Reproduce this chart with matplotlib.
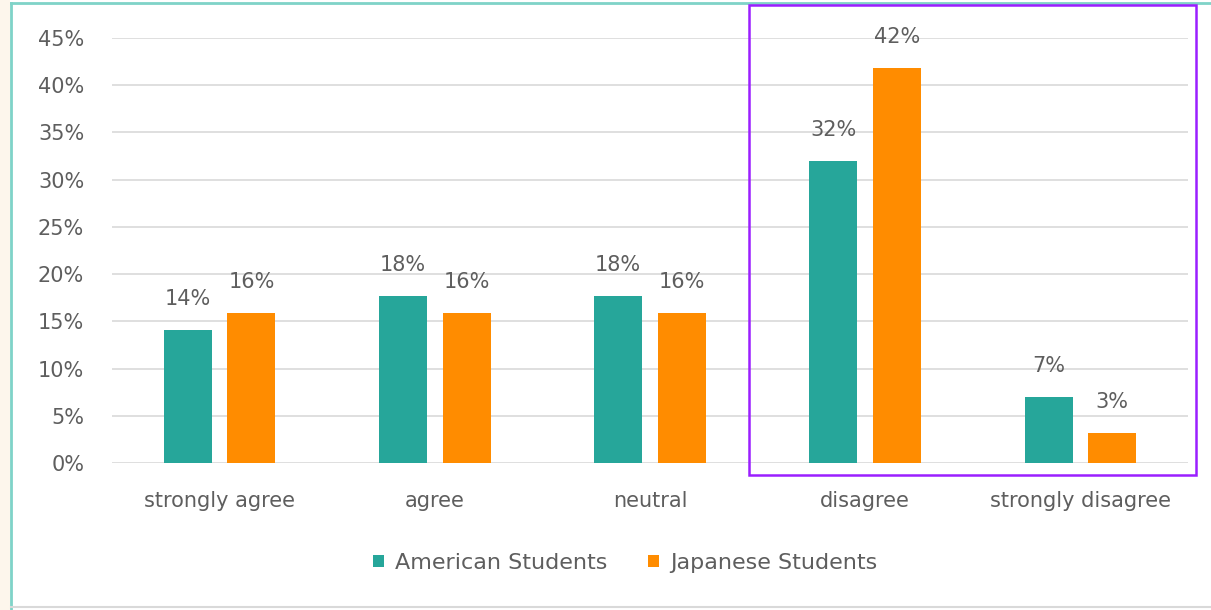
import matplotlib
matplotlib.use("Agg")
import matplotlib.pyplot as plt
from matplotlib.patches import Rectangle
import numpy as np

categories = ["strongly agree", "agree", "neutral", "disagree", "strongly disagree"]
american = [14.1, 17.7, 17.7, 32.0, 7.0]
japanese = [15.9, 15.9, 15.9, 41.8, 3.2]
american_labels = ["14%", "18%", "18%", "32%", "7%"]
japanese_labels = ["16%", "16%", "16%", "42%", "3%"]
yticks = [0, 5, 10, 15, 20, 25, 30, 35, 40, 45]
series_names = ["American Students", "Japanese Students"]

TEAL = "#26A69A"
ORANGE = "#FF8C00"
TXT = "#5E5E5E"
FS = 15

plt.rcParams['font.family'] = ['DejaVu Sans']

W, H = 1211, 610
fig = plt.figure(figsize=(W / 100, H / 100), dpi=100)
fig.patch.set_facecolor("white")

# outer frame decorations
fig.patches.append(Rectangle((0, 0), 10 / W, 1, transform=fig.transFigure,
                             facecolor="#FDF6EC", edgecolor="none", zorder=0))
fig.lines.append(plt.Line2D([11 / W, 11 / W], [0, 1 - 3 / H], transform=fig.transFigure,
                            color="#7FD3C8", lw=2))
fig.lines.append(plt.Line2D([11 / W, 1], [1 - 3 / H, 1 - 3 / H], transform=fig.transFigure,
                            color="#7FD3C8", lw=2))
fig.lines.append(plt.Line2D([11 / W, 1], [1 - 607 / H, 1 - 607 / H], transform=fig.transFigure,
                            color="#D9D9D9", lw=1.5))

left, right = 112 / W, 1188 / W
bottom, top = 1 - 463 / H, 1 - 38 / H
ax = fig.add_axes([left, bottom, right - left, top - bottom])

x = np.arange(len(categories))
bw = 0.223
off = 0.148
b1 = ax.bar(x - off, american, bw, color=TEAL, label=series_names[0], zorder=3)
b2 = ax.bar(x + off, japanese, bw, color=ORANGE, label=series_names[1], zorder=3)

for bars, labels in ((b1, american_labels), (b2, japanese_labels)):
    for rect, lab in zip(bars, labels):
        ax.annotate(lab, (rect.get_x() + rect.get_width() / 2, rect.get_height()),
                    xytext=(0, 15), textcoords="offset points", ha="center", va="bottom",
                    fontsize=FS, color=TXT)

ax.set_xlim(-0.5, len(categories) - 0.5)
ax.set_ylim(0, 45)
ax.set_yticks(yticks)
ax.set_yticklabels([f"{v}%" for v in yticks], fontsize=FS, color=TXT)
ax.set_xticks(x)
ax.set_xticklabels(categories, fontsize=FS, color=TXT)
ax.tick_params(axis="both", length=0)
ax.tick_params(axis="y", pad=20)
ax.tick_params(axis="x", pad=20)
ax.yaxis.grid(True, color="#D9D9D9", lw=1.2, zorder=0)
for s in ax.spines.values():
    s.set_visible(False)
ax.set_facecolor("none")

leg = fig.legend(handles=[b1, b2], labels=series_names, loc="center",
                 bbox_to_anchor=(625 / W, 1 - 563 / H), ncol=2, frameon=False,
                 fontsize=16, handlelength=0.5, handleheight=0.5, handletextpad=0.5,
                 columnspacing=1.8)
for t in leg.get_texts():
    t.set_color(TXT)

# purple highlight box
fig.patches.append(Rectangle((749 / W, 1 - 475 / H), (1196 - 749) / W, (475 - 5) / H,
                             transform=fig.transFigure, facecolor="none",
                             edgecolor="#9B1FFF", lw=1.8, zorder=10))

fig.savefig("out.png", dpi=100)
